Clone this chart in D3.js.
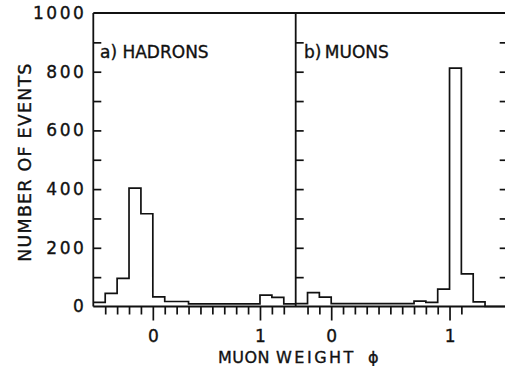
<!DOCTYPE html>
<html>
<head>
<meta charset="utf-8">
<script src="https://cdn.jsdelivr.net/npm/d3@7"></script>
<style>
  html, body { margin: 0; padding: 0; background: #fff; }
  svg { display: block; }
  text { font-family: "DejaVu Sans", sans-serif; fill: #111; stroke: #111; stroke-width: 0.35px; }
</style>
</head>
<body>
<svg id="chart" width="505" height="366"></svg>
<script>
// Histogram contents (events per bin)
const hadronCounts = [14, 45, 96, 403, 316, 33, 17, 17, 9, 9, 9, 9, 9, 9, 39, 31, 9];
const muonCounts   = [10, 47, 32, 10, 10, 10, 10, 10, 10, 10, 18, 14, 59, 812, 111, 16, 0, 0];

// Binning of each panel in muon weight
const hadronBinStart = -5 / 9, hadronBinWidth = 1 / 9;
const muonBinStart = -0.3, muonBinWidth = 0.1;

// Axis labels
const panelTitles = ["a) HADRONS", "b) MUONS"];
const yTickLabels = [0, 200, 400, 600, 800, 1000];
const xTickLabels = ["0", "1"];
const yTitle = "NUMBER OF EVENTS";

const svg = d3.select("#chart");
const ink = "#111";

const plotTop = 13, plotBottom = 306.5;
const leftX = 93.3, midX = 295.7, rightX = 508.7;

const y = d3.scaleLinear().domain([0, 1000]).range([plotBottom, plotTop]);

const xHad = d3.scaleLinear()
  .domain([hadronBinStart, hadronBinStart + hadronCounts.length * hadronBinWidth])
  .range([leftX, midX]);
const xMu = d3.scaleLinear()
  .domain([muonBinStart, muonBinStart + muonCounts.length * muonBinWidth])
  .range([midX, rightX]);

// Frame
const frame = svg.append("g").attr("stroke", ink).attr("stroke-width", 1.8).attr("fill", "none");
frame.append("line").attr("x1", leftX).attr("x2", rightX + 2).attr("y1", plotTop).attr("y2", plotTop);
frame.append("line").attr("x1", leftX).attr("x2", rightX + 2).attr("y1", plotBottom).attr("y2", plotBottom);
frame.append("line").attr("x1", leftX).attr("x2", leftX).attr("y1", plotTop).attr("y2", plotBottom);
frame.append("line").attr("x1", midX).attr("x2", midX).attr("y1", plotTop).attr("y2", plotBottom);
frame.append("line").attr("x1", rightX).attr("x2", rightX).attr("y1", plotTop).attr("y2", plotBottom);

const yTickVals = d3.range(100, 1000, 100);

function styleAxis(g) {
  g.select(".domain").remove();
  g.selectAll(".tick line").attr("stroke", ink).attr("stroke-width", 1.7);
  g.selectAll(".tick text").attr("fill", ink).style("font-family", "DejaVu Sans, sans-serif");
}

// Left y axis: inward ticks, labels every 200
svg.append("g")
  .attr("transform", `translate(${leftX},0)`)
  .call(d3.axisLeft(y).tickValues([0].concat(yTickVals, [1000]))
    .tickSizeInner(-8).tickSizeOuter(0).tickPadding(7)
    .tickFormat(d => yTickLabels.includes(d) ? String(d) : ""))
  .call(styleAxis)
  .call(g => {
    g.selectAll(".tick text").attr("font-size", 17).attr("letter-spacing", 2.5);
    g.selectAll(".tick").filter(d => d === 0 || d === 1000).select("line").remove();
  });

// Divider ticks for the right panel
svg.append("g")
  .attr("transform", `translate(${midX},0)`)
  .call(d3.axisRight(y).tickValues(yTickVals).tickSizeInner(8).tickSizeOuter(0).tickFormat(""))
  .call(styleAxis);

// Right edge ticks
svg.append("g")
  .attr("transform", `translate(${rightX},0)`)
  .call(d3.axisLeft(y).tickValues(yTickVals).tickSizeInner(9).tickSizeOuter(0).tickFormat(""))
  .call(styleAxis);

// X axes: minor ticks at every bin edge, longer labelled ticks at 0 and 1
function xAxes(scale, edges) {
  const minor = edges.filter(v => Math.abs(v) > 1e-9 && Math.abs(v - 1) > 1e-9);
  svg.append("g")
    .attr("transform", `translate(0,${plotBottom})`)
    .call(d3.axisBottom(scale).tickValues(minor).tickSizeInner(8).tickSizeOuter(0).tickFormat(""))
    .call(styleAxis);
  svg.append("g")
    .attr("transform", `translate(0,${plotBottom})`)
    .call(d3.axisBottom(scale).tickValues([0, 1]).tickSizeInner(14).tickSizeOuter(0).tickPadding(9)
      .tickFormat((d, i) => xTickLabels[i]))
    .call(styleAxis)
    .call(g => g.selectAll(".tick text").attr("font-size", 17));
}
const hadEdges = d3.range(1, hadronCounts.length).map(i => hadronBinStart + i * hadronBinWidth);
const muEdges = d3.range(1, muonCounts.length - 3).map(i => muonBinStart + i * muonBinWidth);
xAxes(xHad, hadEdges);
xAxes(xMu, muEdges);

// Step outline of a histogram
function stepPath(counts, start, width, scale) {
  const pts = [];
  counts.forEach((c, i) => {
    const x0 = scale(start + i * width), x1 = scale(start + (i + 1) * width);
    pts.push([x0, y(c)], [x1, y(c)]);
  });
  return d3.line()(pts);
}

svg.append("path")
  .attr("d", stepPath(hadronCounts, hadronBinStart, hadronBinWidth, xHad))
  .attr("fill", "none").attr("stroke", ink).attr("stroke-width", 1.7);
svg.append("path")
  .attr("d", stepPath(muonCounts, muonBinStart, muonBinWidth, xMu))
  .attr("fill", "none").attr("stroke", ink).attr("stroke-width", 1.7);

// Panel titles
svg.append("text").attr("x", 100).attr("y", 58).attr("font-size", 17).text(panelTitles[0]);
svg.append("text").attr("x", 304).attr("y", 58).attr("font-size", 17)
  .attr("word-spacing", -2).text(panelTitles[1]);

// Y title
svg.append("text")
  .attr("transform", "translate(25,162) rotate(-90)")
  .attr("text-anchor", "middle").attr("dominant-baseline", "central")
  .attr("font-size", 17.5).attr("letter-spacing", 1.2)
  .text(yTitle);

// X title
const xt = svg.append("text").attr("y", 363).attr("font-size", 16);
xt.append("tspan").attr("x", 218).attr("letter-spacing", 0.5).text("MUON");
xt.append("tspan").attr("x", 276).attr("letter-spacing", 2.5).text("WEIGHT");
xt.append("tspan").attr("x", 368).text("ϕ");
</script>
</body>
</html>
